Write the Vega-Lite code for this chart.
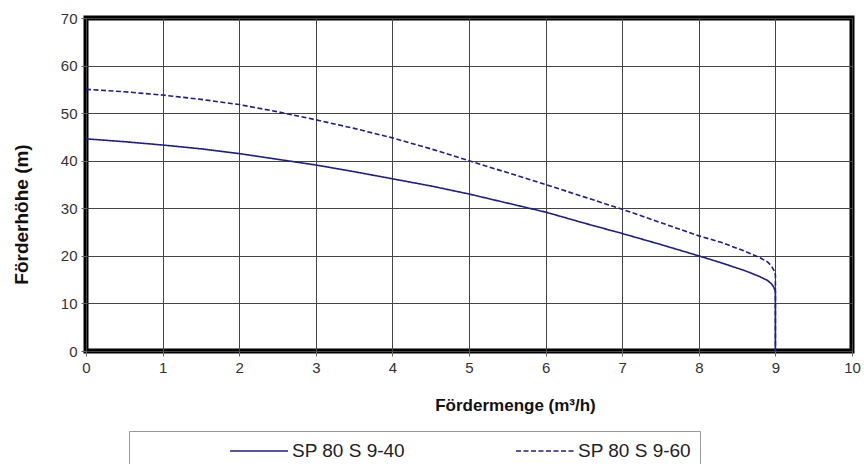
{
  "$schema": "https://vega.github.io/schema/vega-lite/v6.json",
  "width": 766,
  "height": 333,
  "autosize": {"type": "none"},
  "padding": {"left": 86, "top": 18, "right": 12, "bottom": 113},
  "background": "white",
  "config": {
    "font": "Liberation Sans",
    "view": {"stroke": "black", "strokeWidth": 5},
    "axis": {
      "labelFont": "Liberation Sans",
      "titleFont": "Liberation Sans",
      "labelFontSize": 15,
      "labelColor": "#333",
      "labelFlush": false,
      "labelOverlap": false,
      "titleFontWeight": "bold",
      "titleColor": "#111",
      "grid": true,
      "gridColor": "#444",
      "gridWidth": 1,
      "domain": false,
      "tickColor": "#666",
      "tickSize": 5
    }
  },
  "data": {
    "values": [
      {"i": 0, "x": 0, "y": 44.6, "s": "SP 80 S 9-40"},
      {"i": 1, "x": 0.5, "y": 44.0, "s": "SP 80 S 9-40"},
      {"i": 2, "x": 1, "y": 43.3, "s": "SP 80 S 9-40"},
      {"i": 3, "x": 1.5, "y": 42.5, "s": "SP 80 S 9-40"},
      {"i": 4, "x": 2, "y": 41.5, "s": "SP 80 S 9-40"},
      {"i": 5, "x": 2.5, "y": 40.3, "s": "SP 80 S 9-40"},
      {"i": 6, "x": 3, "y": 39.1, "s": "SP 80 S 9-40"},
      {"i": 7, "x": 3.5, "y": 37.7, "s": "SP 80 S 9-40"},
      {"i": 8, "x": 4, "y": 36.2, "s": "SP 80 S 9-40"},
      {"i": 9, "x": 4.5, "y": 34.7, "s": "SP 80 S 9-40"},
      {"i": 10, "x": 5, "y": 33.0, "s": "SP 80 S 9-40"},
      {"i": 11, "x": 5.5, "y": 31.1, "s": "SP 80 S 9-40"},
      {"i": 12, "x": 6, "y": 29.2, "s": "SP 80 S 9-40"},
      {"i": 13, "x": 6.5, "y": 26.9, "s": "SP 80 S 9-40"},
      {"i": 14, "x": 7, "y": 24.7, "s": "SP 80 S 9-40"},
      {"i": 15, "x": 7.5, "y": 22.4, "s": "SP 80 S 9-40"},
      {"i": 16, "x": 8, "y": 20.0, "s": "SP 80 S 9-40"},
      {"i": 17, "x": 8.3, "y": 18.5, "s": "SP 80 S 9-40"},
      {"i": 18, "x": 8.6, "y": 16.9, "s": "SP 80 S 9-40"},
      {"i": 19, "x": 8.8, "y": 15.6, "s": "SP 80 S 9-40"},
      {"i": 20, "x": 8.9, "y": 14.8, "s": "SP 80 S 9-40"},
      {"i": 21, "x": 8.95, "y": 14.1, "s": "SP 80 S 9-40"},
      {"i": 22, "x": 8.98, "y": 13.4, "s": "SP 80 S 9-40"},
      {"i": 23, "x": 9.0, "y": 12.5, "s": "SP 80 S 9-40"},
      {"i": 24, "x": 9.0, "y": 0, "s": "SP 80 S 9-40"},
      {"i": 0, "x": 0, "y": 55.0, "s": "SP 80 S 9-60"},
      {"i": 1, "x": 0.5, "y": 54.5, "s": "SP 80 S 9-60"},
      {"i": 2, "x": 1, "y": 53.8, "s": "SP 80 S 9-60"},
      {"i": 3, "x": 1.5, "y": 52.9, "s": "SP 80 S 9-60"},
      {"i": 4, "x": 2, "y": 51.8, "s": "SP 80 S 9-60"},
      {"i": 5, "x": 2.5, "y": 50.3, "s": "SP 80 S 9-60"},
      {"i": 6, "x": 3, "y": 48.6, "s": "SP 80 S 9-60"},
      {"i": 7, "x": 3.5, "y": 46.8, "s": "SP 80 S 9-60"},
      {"i": 8, "x": 4, "y": 44.8, "s": "SP 80 S 9-60"},
      {"i": 9, "x": 4.5, "y": 42.5, "s": "SP 80 S 9-60"},
      {"i": 10, "x": 5, "y": 40.0, "s": "SP 80 S 9-60"},
      {"i": 11, "x": 5.5, "y": 37.5, "s": "SP 80 S 9-60"},
      {"i": 12, "x": 6, "y": 35.0, "s": "SP 80 S 9-60"},
      {"i": 13, "x": 6.5, "y": 32.4, "s": "SP 80 S 9-60"},
      {"i": 14, "x": 7, "y": 29.8, "s": "SP 80 S 9-60"},
      {"i": 15, "x": 7.5, "y": 27.0, "s": "SP 80 S 9-60"},
      {"i": 16, "x": 8, "y": 24.2, "s": "SP 80 S 9-60"},
      {"i": 17, "x": 8.3, "y": 22.8, "s": "SP 80 S 9-60"},
      {"i": 18, "x": 8.6, "y": 21.0, "s": "SP 80 S 9-60"},
      {"i": 19, "x": 8.8, "y": 19.6, "s": "SP 80 S 9-60"},
      {"i": 20, "x": 8.9, "y": 18.7, "s": "SP 80 S 9-60"},
      {"i": 21, "x": 8.95, "y": 17.8, "s": "SP 80 S 9-60"},
      {"i": 22, "x": 8.98, "y": 17.0, "s": "SP 80 S 9-60"},
      {"i": 23, "x": 9.0, "y": 16.0, "s": "SP 80 S 9-60"},
      {"i": 24, "x": 9.0, "y": 0, "s": "SP 80 S 9-60"}
    ]
  },
  "mark": {"type": "line", "strokeWidth": 1.6, "color": "#1c1c96"},
  "encoding": {
    "x": {
      "field": "x", "type": "quantitative",
      "scale": {"domain": [0, 10], "nice": false},
      "axis": {"values": [0,1,2,3,4,5,6,7,8,9,10], "title": "Fördermenge (m³/h)", "titleFontSize": 17, "titlePadding": 22, "titleX": 429, "labelPadding": 4, "format": "d"}
    },
    "y": {
      "field": "y", "type": "quantitative",
      "scale": {"domain": [0, 70], "nice": false},
      "axis": {"values": [0,10,20,30,40,50,60,70], "title": "Förderhöhe (m)", "titleFontSize": 19, "titlePadding": 29, "titleY": 196, "labelPadding": 4, "format": "d"}
    },
    "order": {"field": "i", "type": "quantitative"},
    "detail": {"field": "s"},
    "strokeDash": {
      "field": "s", "type": "nominal",
      "scale": {"domain": ["SP 80 S 9-40", "SP 80 S 9-60"], "range": [[1, 0], [5, 2.5]]},
      "legend": {
        "title": "\u00a0",
        "titleOrient": "left",
        "titlePadding": 110,
        "titleFontSize": 11,
        "orient": "none",
        "legendX": 43,
        "legendY": 413,
        "direction": "horizontal",
        "symbolType": "M-2.636,0H2.636",
        "symbolSize": 484,
        "symbolStrokeWidth": 1.6,
        "symbolStrokeColor": "#1c1c96",
        "labelFont": "Liberation Sans",
        "labelFontSize": 19,
        "labelColor": "#222",
        "labelOffset": 21,
        "labelLimit": 300,
        "labelExpr": "datum.index == 1 ? datum.label + '\u00a0\u00a0\u00a0\u00a0\u00a0\u00a0\u00a0\u00a0\u00a0\u00a0\u00a0\u00a0\u00a0\u00a0\u00a0\u00a0' : datum.label",
        "columnPadding": 106,
        "strokeColor": "#999",
        "padding": 8,
        "fillColor": "white"
      }
    }
  }
}
